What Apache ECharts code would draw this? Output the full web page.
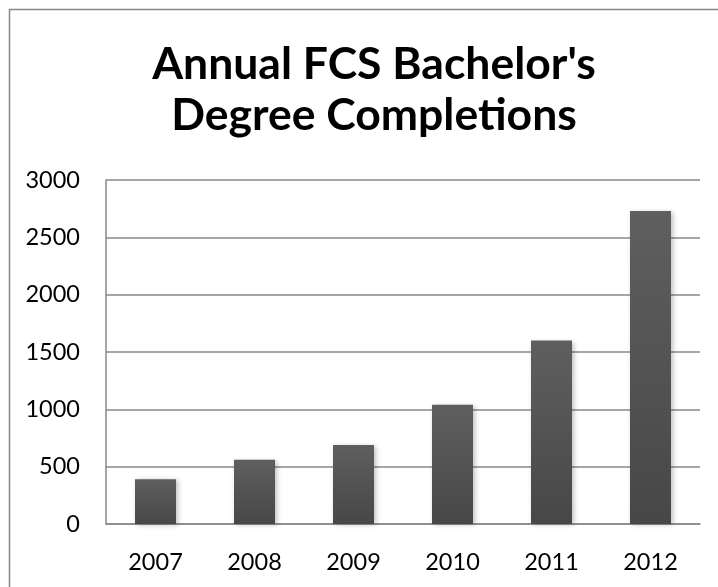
<!DOCTYPE html>
<html>
<head>
<meta charset="utf-8">
<script src="https://cdn.jsdelivr.net/npm/echarts@6/dist/echarts.min.js"></script>
<style>
html,body{margin:0;padding:0;background:#fff;}
#chart{width:718px;height:587px;}
</style>
</head>
<body>
<div id="chart"></div>
<script>
const titleText = "Annual FCS Bachelor's\nDegree Completions";
const years = ['2007', '2008', '2009', '2010', '2011', '2012'];
const completions = [390, 560, 690, 1040, 1600, 2730];
const yMin = 0, yMax = 3000, yStep = 500;

const chart = echarts.init(document.getElementById('chart'), null, {renderer: 'canvas'});
const FONT = 'Lato';
chart.setOption({
  animation: false,
  backgroundColor: '#fff',
  graphic: [{
    type: 'rect',
    shape: {x: 9.5, y: 9.5, width: 730, height: 600},
    style: {fill: 'none', stroke: '#878787', lineWidth: 1.5},
    silent: true
  }],
  title: {
    text: titleText,
    left: 369,
    top: 34,
    textAlign: 'center',
    textStyle: {fontFamily: FONT, fontWeight: 'bold', fontSize: 44.5, lineHeight: 51, color: '#000'}
  },
  grid: {left: 106, right: 18, top: 180, bottom: 63, containLabel: false},
  xAxis: {
    type: 'category',
    data: years,
    axisLine: {show: true, lineStyle: {color: '#888', width: 1.5}},
    axisTick: {show: false},
    axisLabel: {fontFamily: FONT, fontSize: 23.5, color: '#000', margin: 26}
  },
  yAxis: {
    type: 'value',
    min: yMin, max: yMax, interval: yStep,
    axisLine: {show: true, lineStyle: {color: '#888', width: 1.5}},
    axisTick: {show: false},
    splitLine: {show: true, lineStyle: {color: '#888', width: 1.5}},
    axisLabel: {fontFamily: FONT, fontSize: 23.5, color: '#000', margin: 26,
      formatter: function (v) { return String(v); }}
  },
  series: [{
    type: 'bar',
    data: completions,
    barWidth: 41,
    itemStyle: {
      color: new echarts.graphic.LinearGradient(0, 0, 0, 1, [
        {offset: 0, color: '#5f5f5f'},
        {offset: 1, color: '#474747'}
      ]),
      shadowBlur: 5,
      shadowColor: 'rgba(0,0,0,0.25)',
      shadowOffsetX: 2,
      shadowOffsetY: 1
    }
  }]
});
</script>
</body>
</html>
